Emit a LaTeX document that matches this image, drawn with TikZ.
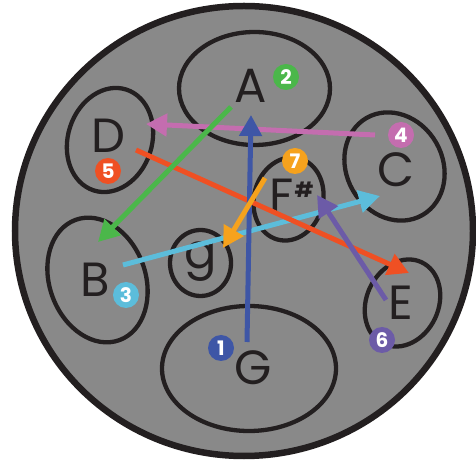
\documentclass[tikz,border=0pt]{standalone}
\usepackage{fontspec}
\setmainfont{Poppins}
\usetikzlibrary{arrows.meta}
\definecolor{bg}{HTML}{898989}
\definecolor{ink}{HTML}{231F20}
\definecolor{cBlue}{HTML}{3E56A6}
\definecolor{cGreen}{HTML}{4BB74A}
\definecolor{cLight}{HTML}{5CBDDB}
\definecolor{cPink}{HTML}{C46DAF}
\definecolor{cRed}{HTML}{EF5023}
\definecolor{cPurple}{HTML}{6C5BA7}
\definecolor{cOrange}{HTML}{F6A21D}
\begin{document}
\begin{tikzpicture}[x=1pt,y=1pt,
  keyring/.style={draw=ink, line width=4.3pt},
  note/.style={font=\fontsize{48}{48}\selectfont, text=ink, inner sep=0pt},
  sharpsign/.style={font=\fontsize{21}{21}\selectfont\bfseries, text=ink, inner sep=0pt},
  badge/.style={circle, fill=#1, minimum size=26pt, inner sep=0pt, text=white,
    font=\fontsize{20}{20}\selectfont\bfseries},
  arr/.style={draw=#1, line width=5pt, -{Triangle[length=21pt,width=22pt]}},
]
\useasboundingbox (0,0) rectangle (476,460);
% drum body
\draw[fill=bg, draw=ink, line width=6.5pt] (244,229) ellipse [x radius=229, y radius=225];
% tone fields
\draw[keyring] (254.5,371.5) ellipse [x radius=75.5, y radius=56.5];
\draw[keyring, rotate around={-18:(110,320)}] (110,320) ellipse [x radius=42, y radius=53];
\draw[keyring, rotate around={30:(394.5,293.5)}] (394.5,293.5) ellipse [x radius=48, y radius=56];
\draw[keyring, rotate around={-15:(288.5,261)}] (288.5,261) ellipse [x radius=34.5, y radius=42];
\draw[keyring] (200.5,197) ellipse [x radius=30.5, y radius=33];
\draw[keyring, rotate around={20:(97.5,180)}] (97.5,180) ellipse [x radius=48, y radius=64];
\draw[keyring] (249,91.5) ellipse [x radius=87, y radius=62.5];
\draw[keyring, rotate around={-25:(402.5,157)}] (402.5,157) ellipse [x radius=36, y radius=45];
% note names
\node[note] (nA) at (251,374) {A};
\node[note] (nD) at (108,324.5) {D};
\node[note] (nC) at (396,290) {C};
\node[note] (nF) at (282,264) {F};
\node[sharpsign] (nSharp) at (304,270) {\#};
\node[note] (ng) at (201,198) {g};
\node[note] (nB) at (95,180) {B};
\node[note] (nG) at (253,92) {G};
\node[note] (nE) at (401,157) {E};
% arrow end points
\coordinate (s1) at (247,118);  \coordinate (e1) at (251,345);
\coordinate (s2) at (231,353);  \coordinate (e2) at (98,218);
\coordinate (s3) at (123,195);  \coordinate (e3) at (380,264);
\coordinate (s4) at (375,325);  \coordinate (e4) at (146,336);
\coordinate (s5) at (136,310);  \coordinate (e5) at (409,187);
\coordinate (s6) at (386,160);  \coordinate (e6) at (317,265);
\coordinate (s7) at (265,282);  \coordinate (e7) at (223,212);
% arrows
\draw[arr=cPink] (s4) -- (e4);
\draw[arr=cLight] (s3) -- (e3);
\draw[arr=cRed] (s5) -- (e5);
\draw[arr=cBlue] (s1) -- (e1);
\draw[arr=cGreen] (s2) -- (e2);
\draw[arr=cPurple] (s6) -- (e6);
\draw[arr=cOrange] (s7) -- (e7);
% step badges
\node[badge=cBlue] (b1) at (221,112) {1};
\node[badge=cGreen] (b2) at (286,383) {2};
\node[badge=cLight] (b3) at (126,165) {3};
\node[badge=cPink] (b4) at (401,325) {4};
\node[badge=cRed] (b5) at (108,289) {5};
\node[badge=cPurple] (b6) at (382,120) {6};
\node[badge=cOrange] (b7) at (295,299) {7};
\end{tikzpicture}
\end{document}
